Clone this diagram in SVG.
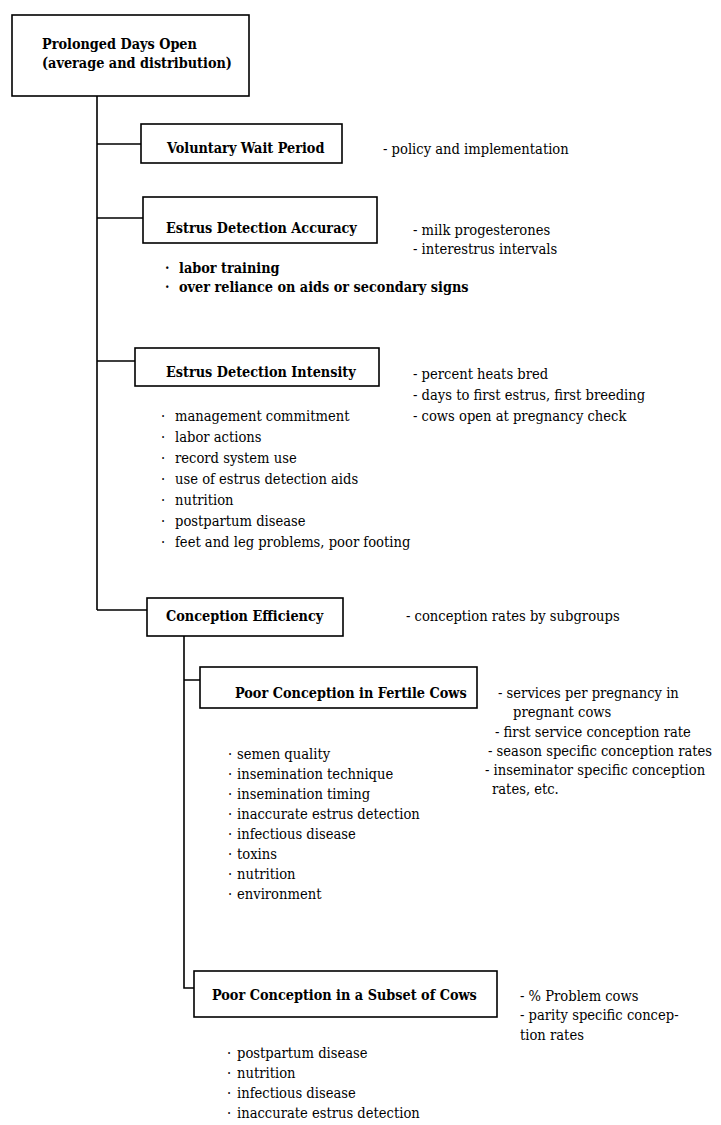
<svg xmlns="http://www.w3.org/2000/svg" width="721" height="1125" viewBox="0 0 721 1125">
<style>
.box{fill:#fff;stroke:#000;stroke-width:1.6}
.ln{fill:none;stroke:#000;stroke-width:1.6}
.t{font-family:"DejaVu Serif Condensed","DejaVu Serif",serif;font-stretch:condensed;font-size:14.6px;fill:#000}
.b{font-family:"DejaVu Serif Condensed","DejaVu Serif",serif;font-stretch:condensed;font-size:14.3px;font-weight:bold;fill:#000}
</style>
<rect width="721" height="1125" fill="#fff"/>
<g id="connectors">
<path class="ln" d="M97,96 V610 M97,144 H141 M97,218 H143 M97,361 H135 M97,610 H147"/>
<path class="ln" d="M184,636 V988 H194 M184,680 H200"/>
</g>
<g id="root">
<rect class="box" x="12" y="15" width="237" height="81"/>
<text class="b" x="42" y="49">Prolonged Days Open</text>
<text class="b" x="42" y="68">(average and distribution)</text>
</g>
<g id="vwp">
<rect class="box" x="141" y="124" width="201" height="39"/>
<text class="b" x="167" y="153">Voluntary Wait Period</text>
<text class="t" x="383" y="154">- policy and implementation</text>
</g>
<g id="eda">
<rect class="box" x="143" y="197" width="234" height="46"/>
<text class="b" x="166" y="233">Estrus Detection Accuracy</text>
<text class="t" x="413" y="235">- milk progesterones</text>
<text class="t" x="413" y="254">- interestrus intervals</text>
<text class="b" x="165" y="273">·</text><text class="b" x="179" y="273">labor training</text>
<text class="b" x="165" y="292">·</text><text class="b" x="179" y="292">over reliance on aids or secondary signs</text>
</g>
<g id="edi">
<rect class="box" x="135" y="348" width="244" height="38"/>
<text class="b" x="166" y="377">Estrus Detection Intensity</text>
<text class="t" x="413" y="379">- percent heats bred</text>
<text class="t" x="413" y="400">- days to first estrus, first breeding</text>
<text class="t" x="413" y="421">- cows open at pregnancy check</text>
<g class="t">
<text x="161" y="421">·</text><text x="175" y="421">management commitment</text>
<text x="161" y="442">·</text><text x="175" y="442">labor actions</text>
<text x="161" y="463">·</text><text x="175" y="463">record system use</text>
<text x="161" y="484">·</text><text x="175" y="484">use of estrus detection aids</text>
<text x="161" y="505">·</text><text x="175" y="505">nutrition</text>
<text x="161" y="526">·</text><text x="175" y="526">postpartum disease</text>
<text x="161" y="547">·</text><text x="175" y="547">feet and leg problems, poor footing</text>
</g>
</g>
<g id="ce">
<rect class="box" x="147" y="598" width="196" height="38"/>
<text class="b" x="166" y="621">Conception Efficiency</text>
<text class="t" x="406" y="621">- conception rates by subgroups</text>
</g>
<g id="pcf">
<rect class="box" x="200" y="667" width="277" height="41"/>
<text class="b" x="235" y="698">Poor Conception in Fertile Cows</text>
<text class="t" x="498" y="698">- services per pregnancy in</text>
<text class="t" x="513" y="717">pregnant cows</text>
<text class="t" x="495" y="737">- first service conception rate</text>
<text class="t" x="488" y="756">- season specific conception rates</text>
<text class="t" x="485" y="775">- inseminator specific conception</text>
<text class="t" x="492" y="794">rates, etc.</text>
<g class="t">
<text x="228" y="759">·</text><text x="237" y="759">semen quality</text>
<text x="228" y="779">·</text><text x="237" y="779">insemination technique</text>
<text x="228" y="799">·</text><text x="237" y="799">insemination timing</text>
<text x="228" y="819">·</text><text x="237" y="819">inaccurate estrus detection</text>
<text x="228" y="839">·</text><text x="237" y="839">infectious disease</text>
<text x="228" y="859">·</text><text x="237" y="859">toxins</text>
<text x="228" y="879">·</text><text x="237" y="879">nutrition</text>
<text x="228" y="899">·</text><text x="237" y="899">environment</text>
</g>
</g>
<g id="pcs">
<rect class="box" x="194" y="971" width="303" height="46"/>
<text class="b" x="212" y="1000">Poor Conception in a Subset of Cows</text>
<text class="t" x="520" y="1001">- % Problem cows</text>
<text class="t" x="520" y="1020">- parity specific concep-</text>
<text class="t" x="520" y="1040">tion rates</text>
<g class="t">
<text x="227" y="1058">·</text><text x="237" y="1058">postpartum disease</text>
<text x="227" y="1078">·</text><text x="237" y="1078">nutrition</text>
<text x="227" y="1098">·</text><text x="237" y="1098">infectious disease</text>
<text x="227" y="1118">·</text><text x="237" y="1118">inaccurate estrus detection</text>
</g>
</g>
</svg>
